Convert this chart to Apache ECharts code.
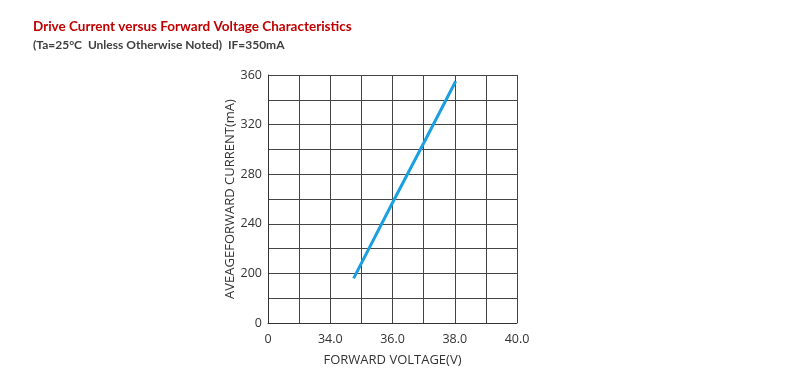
<!DOCTYPE html>
<html>
<head>
<meta charset="utf-8">
<script src="https://cdn.jsdelivr.net/npm/echarts@6/dist/echarts.min.js"></script>
<style>html,body{margin:0;padding:0;background:#fff;}#c{width:791px;height:373px;}</style>
</head>
<body>
<div id="c"></div>
<script>
var titleText = 'Drive Current versus Forward Voltage Characteristics';
var subText = '(Ta=25\u00B0C  Unless Otherwise Noted)  IF=350mA';
var xName = 'FORWARD VOLTAGE(V)';
var yName = 'AVEAGEFORWARD CURRENT(mA)';
// x axis: 32..40, step 1 ; first tick is labelled "0"
var xTicks = [32, 33, 34, 35, 36, 37, 38, 39, 40];
var xTickLabels = ['0', '', '34.0', '', '36.0', '', '38.0', '', '40.0'];
// y axis: 160..360, step 20 ; first tick is labelled "0"
var yTicks = [160, 180, 200, 220, 240, 260, 280, 300, 320, 340, 360];
var yTickLabels = ['0', '', '200', '', '240', '', '280', '', '320', '', '360'];
// series
var voltage = [34.75, 36.0, 37.0, 38.03];
var current = [196, 257, 305, 355];

var chart = echarts.init(document.getElementById('c'), null, {renderer: 'canvas'});
var axisFont = '"Open Sans", sans-serif';
chart.setOption({
  animation: false,
  backgroundColor: '#fff',
  title: [{
    text: titleText,
    left: 28, top: 15,
    textStyle: {color: '#c00000', fontFamily: 'Lato', fontWeight: 'bold', fontSize: 13.5}
  }, {
    text: subText,
    left: 28, top: 34,
    textStyle: {color: '#404040', fontFamily: 'Lato', fontWeight: 'bold', fontSize: 12}
  }],
  grid: {left: 268, right: 274, top: 75, bottom: 50, containLabel: false},
  xAxis: {
    type: 'value', min: xTicks[0], max: xTicks[xTicks.length - 1], interval: 1,
    name: xName, nameLocation: 'middle', nameGap: 31,
    nameTextStyle: {color: '#333', fontFamily: axisFont, fontSize: 13},
    axisLine: {show: true, lineStyle: {color: '#333', width: 1}},
    axisTick: {show: false},
    axisLabel: {
      color: '#333', fontFamily: axisFont, fontSize: 12.5, margin: 10,
      formatter: function (v) { var i = xTicks.indexOf(Math.round(v)); return i >= 0 ? xTickLabels[i] : ''; }
    },
    splitLine: {show: true, lineStyle: {color: '#444', width: 1}}
  },
  yAxis: {
    type: 'value', min: yTicks[0], max: yTicks[yTicks.length - 1], interval: 20,
    name: yName, nameLocation: 'middle', nameGap: 30, nameRotate: 90,
    nameTextStyle: {color: '#333', fontFamily: axisFont, fontSize: 13},
    axisLine: {show: true, lineStyle: {color: '#333', width: 1}},
    axisTick: {show: false},
    axisLabel: {
      color: '#333', fontFamily: axisFont, fontSize: 12.5, margin: 6,
      formatter: function (v) { var i = yTicks.indexOf(Math.round(v)); return i >= 0 ? yTickLabels[i] : ''; }
    },
    splitLine: {show: true, lineStyle: {color: '#444', width: 1}}
  },
  series: [{
    type: 'line',
    data: voltage.map(function (v, i) { return [v, current[i]]; }),
    showSymbol: false, symbol: 'none',
    lineStyle: {color: '#1a9fe0', width: 3},
    z: 5
  }]
});
</script>
</body>
</html>
